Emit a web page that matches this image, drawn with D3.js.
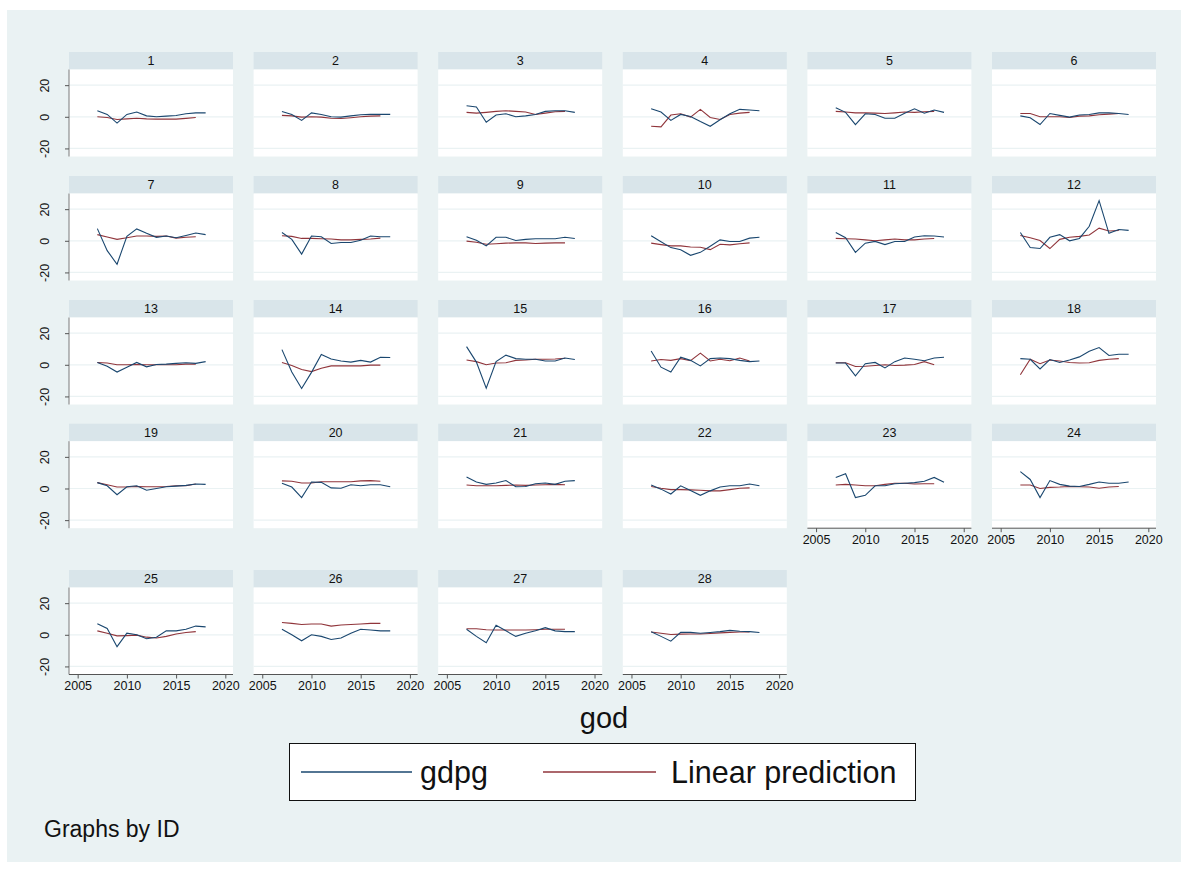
<!DOCTYPE html>
<html><head><meta charset="utf-8">
<script src="https://cdn.jsdelivr.net/npm/d3@7"></script>
<style>body{margin:0;background:#fff}svg{display:block;font-family:Arial,"Liberation Sans",sans-serif}</style>
</head><body><svg id="c" width="1188" height="870"></svg>
<script>
const ids = d3.range(1, 29);
const years = [2007,2008,2009,2010,2011,2012,2013,2014,2015,2016,2017,2018];
const predYears = [2007,2008,2009,2010,2011,2012,2013,2014,2015,2016,2017];
const xTicks = [2005, 2010, 2015, 2020];
const yTicks = [-20, 0, 20];
const seriesNames = ["gdpg", "Linear prediction"];
const gdpg = [
 [3.8,1.5,-4,1.5,3,0.6,0,0.4,0.8,1.9,2.5,2.5],
 [3.4,1.5,-2.3,2.5,1.5,0,-0.2,0.6,1.3,1.5,1.5,1.5],
 [7,6.2,-3.4,1.1,1.9,0,0.6,1.5,3.4,3.8,3.8,2.8],
 [5.1,3,-2.3,1.5,0.2,-3,-6,-1.9,1.9,4.7,4.3,3.8],
 [5.7,2.8,-4.9,1.9,1.5,-0.9,-0.9,2.3,5.1,2.3,4.3,2.8],
 [0.6,-0.6,-4.9,2.1,0.9,-0.2,1.1,1.5,2.5,2.5,2.1,1.5],
 [7.7,-6.2,-14.8,2.8,7.5,4.7,2.2,3,1.9,3.4,4.9,3.9],
 [5.2,0.9,-8.4,3,2.6,-1.7,-1.1,-1.1,0.4,3,2.6,2.6],
 [2.6,0.4,-3.2,2.2,2.2,0.2,0.9,1.3,1.3,1.3,2.2,1.5],
 [3.2,-0.6,-4.3,-5.6,-9.2,-7.3,-3.4,0.6,-0.4,-0.4,1.7,2.2],
 [5.2,1.9,-7.3,-1.5,-0.4,-2.4,-0.4,-0.4,2.4,3.2,3,2.4],
 [5.2,-4.3,-4.9,2.2,3.9,0,1.5,9.2,25.4,4.7,7.1,6.6],
 [1.5,-0.9,-4.6,-1.5,1.5,-1.3,0.2,0.4,0.9,1.3,0.9,2],
 [9.6,-4.6,-15,-4.8,6.5,3.7,2.4,1.7,2.8,1.7,4.8,4.6],
 [11.5,1.7,-14.8,2,6.1,3.9,3.5,3.5,2.4,2.4,4.3,3.3],
 [8.7,-1.5,-4.6,4.8,2.8,-0.7,3.9,4.3,3.9,2.8,2,2.4],
 [1.1,1.1,-7,0.7,1.5,-2,2,4.3,3.5,2.6,4.3,4.8],
 [3.9,3.5,-2.6,3.3,1.5,3,5,8.5,10.9,5.9,6.7,6.7],
 [3.7,1.7,-3.9,1.1,1.7,-1.1,0,1.1,1.5,2,2.8,2.6],
 [3.3,0.9,-5.7,4.1,3.9,0.4,0.2,2.4,1.7,2.4,2.4,1.1],
 [7.2,4.1,2.6,3.5,5,1.1,1.3,3,3.5,2.6,4.6,5],
 [2.2,-0.4,-3.5,1.7,-1.3,-4.3,-1.5,0.9,1.7,1.7,2.8,1.7],
 [7,9.3,-5.7,-4.3,1.7,1.7,3,3.3,3.7,4.6,7,3.9],
 [10.7,5.7,-5.7,5,2.6,1.5,1.3,2.6,4.1,3.3,3.3,4.1],
 [7,4,-7.5,1,0,-2.5,-1.5,2.5,2.5,3.5,5.5,5],
 [3.5,0,-3.8,0,-1,-3,-2,1,3.5,3,2.5,2.5],
 [3.5,-1,-5,6,2.5,-1,1,2.5,4.5,2.5,2,2],
 [2,-1,-4,1.5,1.5,1,1.5,2,2.8,2.2,2,1.5]
];
const linPred = [
 [0,-0.4,-1.7,-1.3,-0.9,-1.3,-1.5,-1.5,-1.5,-1,-0.4],
 [0.9,0.6,-0.2,0,-0.2,-0.9,-1.1,-0.6,0,0.4,0.6],
 [2.8,2.3,2.8,3.4,3.8,3.4,3,1.5,2.3,3.2,3.4],
 [-6,-6.4,1.1,1.9,-0.2,4.7,-0.4,-1.7,1.5,2.3,2.8],
 [3.4,3,2.5,2.5,2.3,2.1,2.5,3,2.8,3.2,3.4],
 [2.1,2.1,0,0,0,-0.4,0.4,0.6,1.3,1.7,2.1],
 [3.9,2.4,0.9,1.9,3,3,2.8,3,1.7,2.2,2.6],
 [3.2,2.8,1.5,1.5,1.3,1.1,0.6,0.6,0.9,1.1,1.7],
 [-0.2,-0.9,-2.2,-1.9,-1.5,-1.3,-1.3,-1.7,-1.5,-1.3,-1.3],
 [-1.5,-2.4,-3.2,-3.2,-3.9,-4.1,-5.6,-2.2,-2.6,-1.9,-1.3],
 [1.5,1.3,1.1,0.6,0,0.6,1.1,0.6,0.6,1.1,1.5],
 [3.4,1.9,0.2,-4.9,0.9,2.2,2.8,3.7,8,6.2,6.5],
 [1.5,1.1,0,0,0.2,0,0,0,0,0.4,0.4],
 [1.5,-0.4,-3,-4.3,-2.2,-0.7,-0.7,-0.7,-0.7,-0.2,-0.2],
 [3,2,0,1.1,1.3,2.8,3,3.5,3.5,3.7,4.1],
 [2.4,3.3,2.8,3.9,2.6,7.4,2.4,3.5,2.6,4.3,2.4],
 [1.3,1.3,-1.1,-0.9,-0.4,0,-0.4,-0.2,0.2,2,0],
 [-6.3,3.5,0.7,3,2.4,1.5,1.1,1.3,2.8,3.5,3.9],
 [3.7,2.4,0.9,0.9,1.3,1.1,1.1,1.3,1.7,1.7,2.8],
 [4.8,4.6,3.5,3.5,4.3,4.3,4.3,4.3,4.8,5,4.6],
 [2.2,1.7,1.7,1.7,2,2.2,2,2.2,2.4,2.6,2.4],
 [1.3,0.2,-0.7,-0.7,-0.9,-1.1,-1.5,-1.5,-0.7,0.2,0.4],
 [2.2,2.6,2.2,1.7,1.7,2.6,3.3,3.3,2.8,3,3],
 [2.2,2.2,0,0.7,0.9,1.3,1.1,0.9,0.2,0.9,1.3],
 [2.5,1,-0.7,-0.5,-0.2,-1.5,-2,-1,0.5,1.5,2],
 [7.8,7.2,6.5,6.8,6.8,5.5,6.2,6.5,6.8,7.2,7.2],
 [3.8,3.8,3.2,3,3,3,3,3.2,3.5,3.5,3.5],
 [1.8,1,0.2,0.4,0.5,0.5,0.8,1.2,1.5,1.8,1.8]
];

const blue = "#1a476f", red = "#90353b";
const FONT = "Arial, Liberation Sans, sans-serif";
const svg = d3.select("#c");
svg.append("rect").attr("x",7).attr("y",10).attr("width",1174).attr("height",852).attr("fill","#eaf2f3");

const colLeft = c => 69 + c * 184.6;
const rowTop = [52, 176, 300, 423.7, 570];
const pw = 164, hh = 17.5, ph = 87;
const x = d3.scaleLinear().domain([2004.12, 2020.78]).range([0, pw]);
const y = d3.scaleLinear().domain([-25.1, 29.9]).range([ph, 0]);

ids.forEach((id, i) => {
  const r = Math.floor(i / 6), c = i % 6;
  const g = svg.append("g").attr("transform", `translate(${colLeft(c)},${rowTop[r]})`);
  g.append("rect").attr("width", pw).attr("height", hh).attr("fill", "#d9e5ea");
  g.append("text").attr("x", pw/2).attr("y", hh/2 + 4.5).attr("text-anchor","middle")
    .attr("font-size", 12.5).attr("fill","#111").text(id);
  const p = g.append("g").attr("transform", `translate(0,${hh})`);
  p.append("rect").attr("width", pw).attr("height", ph).attr("fill", "#fff");
  p.selectAll("line.grid").data(yTicks).join("line").attr("class","grid")
    .attr("x1",0).attr("x2",pw).attr("y1",d=>y(d)).attr("y2",d=>y(d))
    .attr("stroke","#eaf2f3").attr("stroke-width",1.2);
  const line = d3.line().x(d=>x(d[0])).y(d=>y(d[1]));
  p.append("path").datum(predYears.map((yr,k)=>[yr, linPred[i][k]]))
    .attr("d", line).attr("fill","none").attr("stroke", red).attr("stroke-width",1.1);
  p.append("path").datum(years.map((yr,k)=>[yr, gdpg[i][k]]))
    .attr("d", line).attr("fill","none").attr("stroke", blue).attr("stroke-width",1.1);
  if (c === 0) {
    const ya = p.append("g").call(d3.axisLeft(y).tickValues(yTicks).tickSize(4).tickPadding(0).tickFormat(d => String(d)));
    ya.select(".domain").attr("stroke","#7a7a7a").attr("d", `M0,0V${ph}`);
    ya.selectAll(".tick line").attr("stroke","#555");
    ya.selectAll(".tick text").attr("font-size",12.5).attr("fill","#111")
      .attr("font-family",FONT)
      .attr("transform","rotate(-90)").attr("x",0).attr("y",-24).attr("dy","0.35em").attr("text-anchor","middle");
  }
  if (i >= 22) {
    const xa = p.append("g").attr("transform",`translate(0,${ph})`)
      .call(d3.axisBottom(x).tickValues(xTicks).tickSize(4).tickPadding(3).tickFormat(d => String(d)));
    xa.select(".domain").attr("stroke","#555").attr("d", `M0,0H${pw}`);
    xa.selectAll(".tick line").attr("stroke","#555");
    xa.selectAll(".tick text").attr("font-size",12.5).attr("fill","#111")
      .attr("font-family",FONT);
  }
});

svg.append("text").attr("x", 604).attr("y", 728).attr("text-anchor","middle")
  .attr("font-size", 29).attr("fill","#111").text("god");

const lg = svg.append("g");
lg.append("rect").attr("x",289.5).attr("y",743.5).attr("width",626).attr("height",57)
  .attr("fill","#fff").attr("stroke","#111").attr("stroke-width",1);
const legItems = [{n: seriesNames[0], c: blue, x1: 301, x2: 412, tx: 420},
                  {n: seriesNames[1], c: red, x1: 543, x2: 656, tx: 671}];
legItems.forEach(d => {
  lg.append("line").attr("x1",d.x1).attr("x2",d.x2).attr("y1",772).attr("y2",772)
    .attr("stroke",d.c).attr("stroke-width",1.6);
  lg.append("text").attr("x",d.tx).attr("y",783).attr("font-size",30.5).attr("fill","#111").text(d.n);
});
svg.append("text").attr("x",44).attr("y",837).attr("font-size",23).attr("fill","#111").text("Graphs by ID");
</script></body></html>
